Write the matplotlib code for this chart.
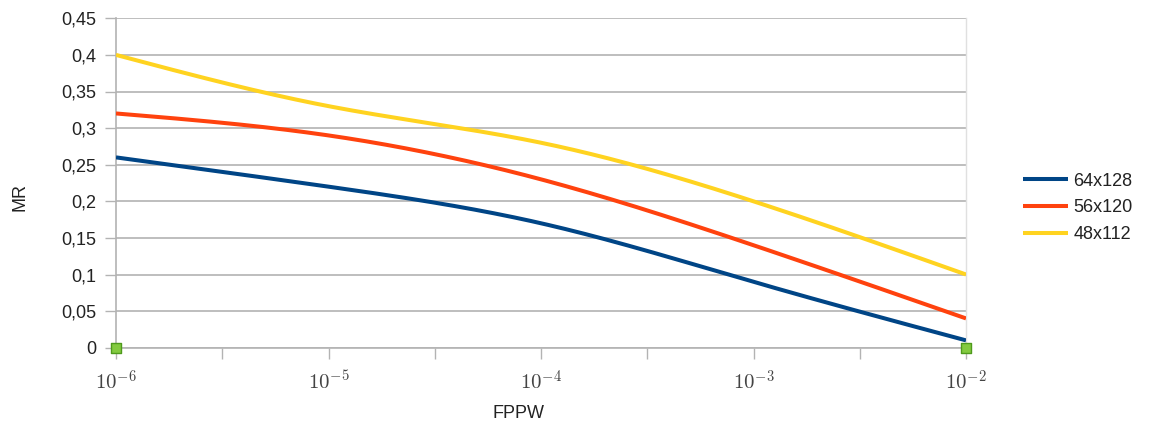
import numpy as np
import matplotlib
matplotlib.use("Agg")
import matplotlib.pyplot as plt
from matplotlib.ticker import FixedLocator, NullLocator, FuncFormatter

# ---- data ----
fppw = [1e-6, 1e-5, 1e-4, 1e-3, 1e-2]
series_names = ["64x128", "56x120", "48x112"]
mr_64x128 = [0.26, 0.22, 0.17, 0.09, 0.01]
mr_56x120 = [0.32, 0.29, 0.23, 0.14, 0.04]
mr_48x112 = [0.40, 0.33, 0.28, 0.20, 0.10]
marker_x = [1e-6, 1e-2]
marker_y = [0.0, 0.0]
y_ticks = [0, 0.05, 0.1, 0.15, 0.2, 0.25, 0.3, 0.35, 0.4, 0.45]
y_tick_labels = ["0", "0,05", "0,1", "0,15", "0,2", "0,25", "0,3", "0,35", "0,4", "0,45"]
x_ticks_major = [1e-6, 1e-5, 1e-4, 1e-3, 1e-2]
x_tick_labels = [r"$10^{-6}$", r"$10^{-5}$", r"$10^{-4}$", r"$10^{-3}$", r"$10^{-2}$"]

colors = ["#004586", "#ff420e", "#ffd320"]

plt.rcParams['font.family'] = ['Liberation Sans', 'DejaVu Sans']
plt.rcParams['mathtext.fontset'] = 'cm'


def natural_spline(xs, ys, n=300):
    """Smooth rendering of the polyline (natural cubic spline, like the source chart)."""
    xs = np.asarray(xs, float)
    ys = np.asarray(ys, float)
    m = len(xs)
    h = np.diff(xs)
    A = np.zeros((m, m))
    r = np.zeros(m)
    A[0, 0] = A[-1, -1] = 1
    for i in range(1, m - 1):
        A[i, i - 1] = h[i - 1]
        A[i, i] = 2 * (h[i - 1] + h[i])
        A[i, i + 1] = h[i]
        r[i] = 6 * ((ys[i + 1] - ys[i]) / h[i] - (ys[i] - ys[i - 1]) / h[i - 1])
    M = np.linalg.solve(A, r)
    xx = np.linspace(xs[0], xs[-1], n)
    yy = np.empty_like(xx)
    for k, x in enumerate(xx):
        i = min(np.searchsorted(xs, x, side='right') - 1, m - 2)
        t1 = xs[i + 1] - x
        t0 = x - xs[i]
        yy[k] = (M[i] * t1 ** 3 + M[i + 1] * t0 ** 3) / (6 * h[i]) \
            + (ys[i] / h[i] - M[i] * h[i] / 6) * t1 \
            + (ys[i + 1] / h[i] - M[i + 1] * h[i] / 6) * t0
    return xx, yy


fig = plt.figure(figsize=(11.52, 4.26), dpi=100)
ax = fig.add_axes([116 / 1152, 1 - 347.7 / 426, (966 - 116) / 1152, (347.7 - 18.3) / 426])

lx = np.log10(fppw)
for name, vals, c in zip(series_names, [mr_64x128, mr_56x120, mr_48x112], colors):
    xx, yy = natural_spline(lx, vals)
    ax.plot(10 ** xx, yy, color=c, lw=2.9, label=name, solid_capstyle='butt', zorder=3)

ax.scatter(marker_x, marker_y, marker='s', s=45, facecolor='#83ca3f', edgecolor='#4f9a1c',
           linewidth=1, zorder=5, clip_on=False)

ax.set_xscale('log')
ax.set_xlim(1e-6, 1e-2)
ax.set_ylim(0, 0.45)

# x ticks at every half decade; labels only at decades
half = [10 ** (-6 + 0.5 * i) for i in range(9)]
ax.xaxis.set_major_locator(FixedLocator(half))
ax.xaxis.set_minor_locator(NullLocator())
lab_map = {round(np.log10(v), 3): l for v, l in zip(x_ticks_major, x_tick_labels)}
ax.xaxis.set_major_formatter(FuncFormatter(lambda v, p: lab_map.get(round(np.log10(v), 3), "")))
ax.tick_params(axis='x', direction='out', length=8, width=1, color='#b3b3b3',
               pad=8, labelsize=15, labelcolor='#444444')

ax.set_yticks(y_ticks)
ax.set_yticklabels(y_tick_labels)
ax.tick_params(axis='y', direction='out', length=8, width=1, color='#b3b3b3',
               pad=6, labelsize=13, labelcolor='#222222')

ax.yaxis.grid(True, color='#b3b3b3', lw=1.2)
ax.xaxis.grid(False)
for s in ['top']:
    ax.spines[s].set_visible(False)
ax.spines['left'].set_color('#b3b3b3')
ax.spines['left'].set_linewidth(1.2)
ax.spines['bottom'].set_color('#b3b3b3')
ax.spines['bottom'].set_linewidth(1.2)
ax.spines['right'].set_color('#e0e0e0')
ax.spines['right'].set_linewidth(1.0)

fig.text(20 / 1152, 1 - 197 / 426, "MR", rotation=90, ha='center', va='center',
         fontsize=13, color='#222222')
fig.text(518 / 1152, 1 - 413 / 426, "FPPW", ha='center', va='center',
         fontsize=13, color='#222222')

fig.legend(loc='center left', bbox_to_anchor=(1023 / 1152, 1 - 208 / 426),
           frameon=False, fontsize=13, handlelength=2.5, handletextpad=0.3,
           labelspacing=0.55, borderpad=0, borderaxespad=0)
for t in fig.legends[0].get_texts():
    t.set_color('#222222')

fig.savefig("out.png", dpi=100)
